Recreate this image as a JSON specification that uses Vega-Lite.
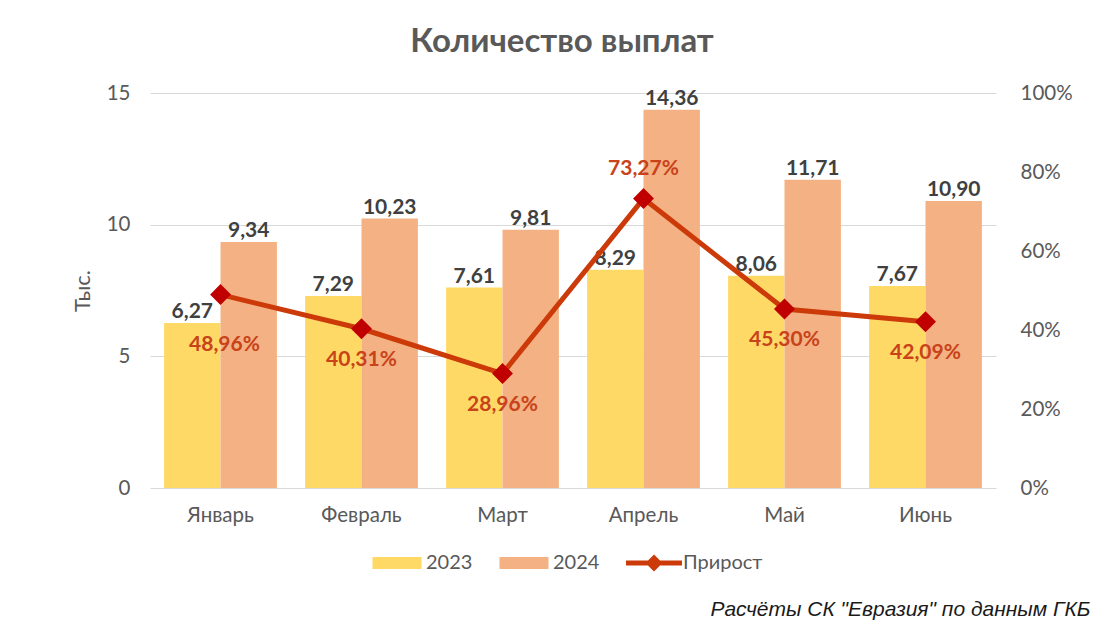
{
  "$schema": "https://vega.github.io/schema/vega-lite/v6.json",
  "width": 846,
  "height": 395,
  "autosize": "none",
  "padding": {"left": 150, "top": 93, "right": 124, "bottom": 142},
  "background": "white",
  "config": {
    "locale": {"number": {"decimal": ",", "thousands": " ", "grouping": [3], "currency": ["", ""]}},
    "view": {"stroke": null},
    "font": "Lato",
    "axis": {"labelFont": "Lato", "labelFontSize": 20.5, "labelColor": "#595959", "domain": false, "ticks": false, "titleFont": "Lato", "titleColor": "#595959", "titleFontWeight": "normal"}
  },
  "title": {"text": "Количество выплат", "fontSize": 33, "fontWeight": "bold", "color": "#595959", "font": "Lato", "offset": 24, "dx": -11},
  "datasets": {
    "bars": [
      {"month": "Январь", "year": "2023", "value": 6.27},
      {"month": "Январь", "year": "2024", "value": 9.34},
      {"month": "Февраль", "year": "2023", "value": 7.29},
      {"month": "Февраль", "year": "2024", "value": 10.23},
      {"month": "Март", "year": "2023", "value": 7.61},
      {"month": "Март", "year": "2024", "value": 9.81},
      {"month": "Апрель", "year": "2023", "value": 8.29},
      {"month": "Апрель", "year": "2024", "value": 14.36},
      {"month": "Май", "year": "2023", "value": 8.06},
      {"month": "Май", "year": "2024", "value": 11.71},
      {"month": "Июнь", "year": "2023", "value": 7.67},
      {"month": "Июнь", "year": "2024", "value": 10.90}
    ],
    "growth": [
      {"month": "Январь", "pct": 0.4896, "side": "far"},
      {"month": "Февраль", "pct": 0.4031, "side": "below"},
      {"month": "Март", "pct": 0.2896, "side": "below"},
      {"month": "Апрель", "pct": 0.7327, "side": "above"},
      {"month": "Май", "pct": 0.4530, "side": "below"},
      {"month": "Июнь", "pct": 0.4209, "side": "below"}
    ]
  },
  "encoding": {
    "x": {
      "field": "month", "type": "nominal",
      "sort": ["Январь", "Февраль", "Март", "Апрель", "Май", "Июнь"],
      "scale": {"paddingInner": 0.2, "paddingOuter": 0.1},
      "axis": {"labelAngle": 0, "labelPadding": 17, "title": "Расчёты СК \"Евразия\" по данным ГКБ", "titleFont": "Liberation Sans", "titleFontStyle": "italic", "titleFontSize": 21, "titleColor": "#1a1a1a", "titleAnchor": "end", "titleAlign": "right", "titleX": 940, "titleY": 127, "titleBaseline": "alphabetic"}
    }
  },
  "layer": [
    {
      "data": {"name": "bars"},
      "layer": [
        {
          "mark": {"type": "bar"},
          "encoding": {
            "xOffset": {"field": "year", "type": "nominal"},
            "y": {"field": "value", "type": "quantitative", "scale": {"domain": [0, 15], "nice": false},
              "axis": {"values": [0, 5, 10, 15], "title": "Тыс.", "titleFontSize": 22, "labelPadding": 20, "titlePadding": 12, "gridColor": "#D9D9D9", "gridWidth": 1.2}},
            "color": {
              "field": "year", "type": "nominal",
              "scale": {"domain": ["2023", "2024", "Прирост"], "range": ["#FFD966", "#F4B183", "#CC3A0A"]},
              "legend": {
                "title": null, "orient": "none", "direction": "horizontal", "legendX": 222, "legendY": 460,
                "symbolSize": 400, "symbolOffset": 15, "labelOffset": 19, "columnPadding": 26,
                "labelFontSize": 20, "labelColor": "#595959", "labelFont": "Lato",
                "encode": {"symbols": {"update": {
                  "shape": {"signal": "datum.value == 'Прирост' ? 'M-2.8,-0.25H2.8V0.25H-2.8Z M0,-0.85L0.85,0L0,0.85L-0.85,0Z' : 'M-2.45,-0.6H2.45V0.6H-2.45Z'"},
                  "fill": {"signal": "datum.value == 'Прирост' ? '#CC2A0A' : scale('color', datum.value)"},
                  "stroke": {"value": "transparent"},
                  "strokeWidth": {"value": 0},
                  "opacity": {"value": 1}
                }}}
              }
            }
          }
        },
        {
          "mark": {"type": "text", "baseline": "bottom", "dy": -1, "fontSize": 21, "fontWeight": "bold", "color": "#404040", "font": "Lato"},
          "encoding": {
            "xOffset": {"field": "year", "type": "nominal"},
            "y": {"field": "value", "type": "quantitative"},
            "text": {"field": "value", "type": "quantitative", "format": ".2f"}
          }
        }
      ]
    },
    {
      "data": {"name": "growth"},
      "layer": [
        {
          "mark": {"type": "line", "strokeWidth": 5},
          "encoding": {
            "y": {"field": "pct", "type": "quantitative", "scale": {"domain": [0, 1], "nice": false},
              "axis": {"orient": "right", "format": ".0%", "values": [0, 0.2, 0.4, 0.6, 0.8, 1], "grid": false, "labelPadding": 24, "title": null}},
            "color": {"datum": "Прирост"}
          }
        },
        {
          "mark": {"type": "point", "shape": "diamond", "size": 330, "filled": true, "fill": "#C00000", "opacity": 1, "stroke": "#C00000"},
          "encoding": {"y": {"field": "pct", "type": "quantitative"}}
        },
        {
          "transform": [{"filter": "datum.side == 'below'"}],
          "mark": {"type": "text", "dy": 31, "fontSize": 21, "fontWeight": "bold", "color": "#C8421A", "font": "Lato"},
          "encoding": {
            "y": {"field": "pct", "type": "quantitative"},
            "text": {"field": "pct", "type": "quantitative", "format": ".2%"}
          }
        },
        {
          "transform": [{"filter": "datum.side == 'far'"}],
          "mark": {"type": "text", "dy": 50, "dx": 4, "fontSize": 21, "fontWeight": "bold", "color": "#C8421A", "font": "Lato"},
          "encoding": {
            "y": {"field": "pct", "type": "quantitative"},
            "text": {"field": "pct", "type": "quantitative", "format": ".2%"}
          }
        },
        {
          "transform": [{"filter": "datum.side == 'above'"}],
          "mark": {"type": "text", "dy": -30, "fontSize": 21, "fontWeight": "bold", "color": "#C8421A", "font": "Lato"},
          "encoding": {
            "y": {"field": "pct", "type": "quantitative"},
            "text": {"field": "pct", "type": "quantitative", "format": ".2%"}
          }
        }
      ],
      "resolve": {"scale": {"y": "shared"}}
    }
  ],
  "resolve": {"scale": {"y": "independent"}}
}
